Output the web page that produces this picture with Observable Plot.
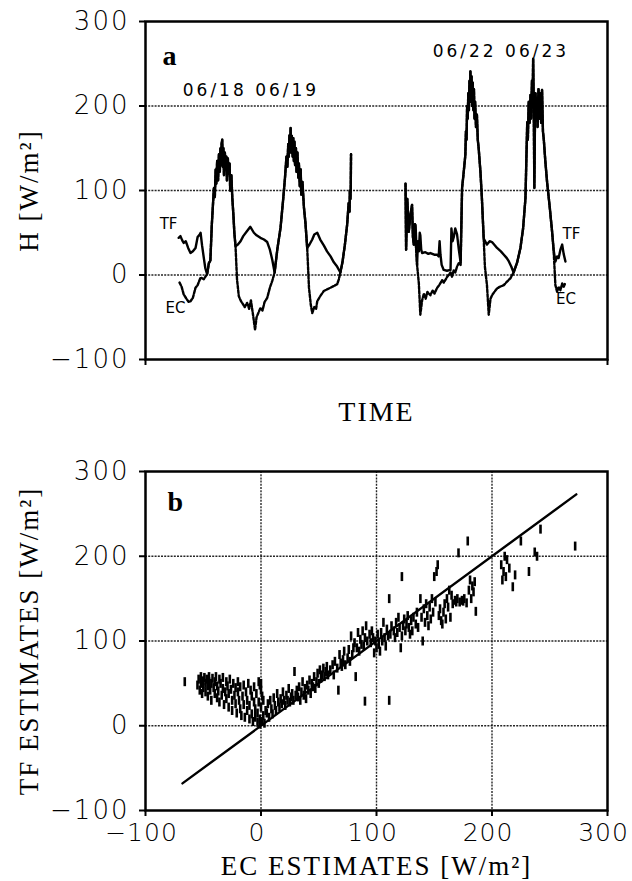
<!DOCTYPE html>
<html><head><meta charset="utf-8">
<script src="https://cdn.jsdelivr.net/npm/d3@7"></script>
<script src="https://cdn.jsdelivr.net/npm/@observablehq/plot@0.6"></script>
<style>
body{margin:0;background:#fff;}
#chart{width:632px;height:881px;}
#chart svg{display:block;}
</style>
</head><body><div id="chart"></div>
<script>
// ---------- Panel a: sensible heat flux time series (hours of record, W/m2) ----------
const tf1 = [[11.2,44],[11.8,46],[12.4,41],[12.9,38],[13.6,40],[14.4,32],[15.2,26],[16.0,28],[16.9,32],[17.6,45],[18.3,48],[18.6,50],[19.1,35],[19.7,20],[20.2,8],[20.8,1],[21.4,14],[21.9,17],[22.4,60],[23.1,103],[23.4,92],[23.7,125],[23.9,108],[24.2,135],[24.5,112],[24.8,143],[25.1,122],[25.3,150],[25.5,130],[25.7,155],[25.9,160],[26.1,128],[26.3,150],[26.5,118],[26.8,145],[27.0,125],[27.3,140],[27.5,112],[27.8,138],[28.1,120],[28.4,132],[28.6,100],[29.0,118],[29.3,92],[29.7,70],[30.0,50],[30.4,34],[31.2,36],[32.1,40],[33.0,46],[34.3,52],[35.4,57],[36.6,50],[37.5,47],[38.8,44],[40.0,42],[41.1,39],[42.0,30],[42.8,18],[43.6,3],[44.5,30],[45.6,56],[46.5,90],[47.1,115],[47.6,140],[47.9,128],[48.2,155],[48.4,140],[48.6,165],[48.8,148],[49.0,174],[49.2,145],[49.4,165],[49.7,140],[49.9,162],[50.1,135],[50.3,158],[50.5,130],[50.8,150],[51.0,122],[51.3,145],[51.6,115],[51.8,132],[52.1,105],[52.4,125],[52.6,95],[53.0,110],[53.5,80],[54.0,62],[54.6,32],[55.2,35],[56.3,42],[57.0,48],[58.0,50],[59.0,42],[60.2,35],[61.3,28],[62.5,22],[63.6,15],[64.7,10],[65.8,3],[66.5,15],[67.3,35],[68.1,60],[68.6,85],[68.9,75],[69.0,100],[69.2,90],[69.3,103],[69.4,143]];
const ec1 = [[11.5,-9],[12.2,-14],[12.9,-23],[13.8,-28],[14.6,-32],[15.2,-31],[16.0,-27],[16.9,-15],[17.6,-12],[18.6,-3],[19.7,-5],[20.8,1],[21.4,14],[21.9,17],[22.4,60],[23.1,103],[23.4,92],[23.7,125],[23.9,108],[24.2,135],[24.5,112],[24.8,143],[25.1,122],[25.3,150],[25.5,130],[25.7,155],[25.9,160],[26.1,128],[26.3,150],[26.5,118],[26.8,145],[27.0,125],[27.3,140],[27.5,112],[27.8,138],[28.1,120],[28.4,132],[28.6,100],[29.0,118],[29.3,92],[29.7,70],[30.0,50],[30.4,34],[30.9,-5],[31.5,-25],[32.1,-30],[32.8,-34],[33.5,-38],[34.3,-33],[35.0,-40],[35.6,-30],[36.3,-47],[37.0,-65],[37.5,-50],[38.1,-45],[38.8,-39],[39.5,-42],[40.2,-32],[41.1,-27],[42.0,-15],[42.8,-7],[43.6,3],[44.5,30],[45.6,56],[46.5,90],[47.1,115],[47.6,140],[47.9,128],[48.2,155],[48.4,140],[48.6,165],[48.8,148],[49.0,174],[49.2,145],[49.4,165],[49.7,140],[49.9,162],[50.1,135],[50.3,158],[50.5,130],[50.8,150],[51.0,122],[51.3,145],[51.6,115],[51.8,132],[52.1,105],[52.4,125],[52.6,95],[53.0,110],[53.5,80],[54.0,62],[54.6,32],[55.2,-15],[55.8,-35],[56.3,-45],[57.0,-38],[57.6,-40],[58.0,-31],[59.0,-25],[60.2,-19],[61.3,-17],[62.5,-15],[63.6,-13],[64.7,-11],[65.3,-5],[65.8,3],[66.5,15],[67.3,35],[68.1,60],[68.6,85],[68.9,75],[69.0,100],[69.2,90],[69.3,103],[69.4,143]];
const tf2 = [[87.8,108],[88.0,30],[88.4,90],[88.9,51],[89.4,70],[90.0,83],[90.3,45],[90.6,36],[91.0,60],[91.2,59],[91.5,30],[91.7,12],[92.0,40],[92.3,28],[92.6,50],[92.8,47],[93.1,30],[93.4,26],[94.5,27],[95.5,25],[96.2,26],[97.5,24],[98.5,24],[99.0,22],[99.3,40],[99.6,24],[100.0,12],[100.7,6],[101.8,5],[103.0,6],[103.3,55],[103.7,40],[104.1,45],[104.6,55],[105.2,48],[105.8,30],[106.4,15],[106.9,103],[107.4,120],[108.0,142],[108.2,170],[108.4,160],[108.6,200],[108.8,185],[109.0,215],[109.2,195],[109.4,230],[109.6,205],[109.7,241],[109.9,210],[110.1,235],[110.3,200],[110.5,228],[110.7,195],[110.9,220],[111.1,185],[111.3,205],[111.6,175],[111.9,190],[112.2,160],[112.5,150],[113.1,122],[113.6,90],[114.2,43],[115.3,36],[116.2,40],[117.0,39],[118.0,35],[118.7,32],[120.0,28],[121.0,24],[122.0,20],[122.7,16],[123.5,10],[124.3,3],[125.5,15],[126.6,32],[127.5,55],[128.3,91],[128.9,181],[129.1,160],[129.4,205],[129.7,180],[130.0,213],[130.2,185],[130.5,230],[130.7,200],[130.9,256],[131.1,200],[131.3,103],[131.5,180],[131.7,215],[131.9,190],[132.2,209],[132.4,175],[132.7,220],[133.0,185],[133.3,215],[133.6,180],[133.9,219],[134.2,170],[134.5,160],[135.0,135],[135.6,110],[136.5,80],[137.3,51],[137.8,30],[138.4,16],[139.0,22],[139.5,20],[140.1,30],[140.7,36],[141.2,25],[141.8,16]];
const ec2 = [[87.8,108],[88.0,30],[88.4,90],[88.9,51],[89.4,70],[90.0,83],[90.3,45],[90.6,36],[91.0,60],[91.2,40],[91.7,12],[92.3,-10],[92.8,-47],[93.4,-30],[94.0,-22],[94.6,-28],[95.2,-20],[96.2,-24],[97.0,-18],[97.6,-22],[98.5,-15],[99.2,-12],[100.2,-6],[100.7,-9],[101.9,-2],[103.0,3],[103.5,-2],[104.1,6],[104.6,3],[105.2,10],[105.8,14],[106.4,12],[106.9,103],[107.4,120],[108.0,142],[108.2,170],[108.4,160],[108.6,200],[108.8,185],[109.0,215],[109.2,195],[109.4,230],[109.6,205],[109.7,241],[109.9,210],[110.1,235],[110.3,200],[110.5,228],[110.7,195],[110.9,220],[111.1,185],[111.3,205],[111.6,175],[111.9,190],[112.2,160],[112.5,150],[113.1,122],[113.6,90],[114.2,43],[114.6,10],[115.3,-12],[115.9,-47],[116.5,-28],[117.0,-24],[117.8,-20],[118.7,-16],[119.6,-14],[121.0,-12],[122.0,-8],[123.2,-4],[124.3,3],[125.5,15],[126.6,32],[127.5,55],[128.3,91],[128.9,181],[129.1,160],[129.4,205],[129.7,180],[130.0,213],[130.2,185],[130.5,230],[130.7,200],[130.9,256],[131.1,200],[131.3,103],[131.5,180],[131.7,215],[131.9,190],[132.2,209],[132.4,175],[132.7,220],[133.0,185],[133.3,215],[133.6,180],[133.9,219],[134.2,170],[134.5,160],[135.0,135],[135.6,110],[136.5,80],[137.3,51],[137.8,30],[138.4,-12],[139.0,-20],[139.5,-14],[140.1,-18],[140.7,-10],[141.2,-14],[141.8,-9]];
const yTicks = [-100, 0, 100, 200, 300];
const gridValues = [0, 100, 200];
const dateLabels = ["06/18 06/19", "06/22 06/23"];
const seriesLabels = ["TF", "EC", "TF", "EC"];

// ---------- Panel b: TF estimates vs EC estimates (W/m2) ----------
const ecEst = [-66,-55,-54,-53,-52,-52,-51,-50,-50,-49,-48,-48,-47,-46,-46,-45,-45,-44,-43,-43,-42,-41,-40,-40,-39,-38,-38,-37,-36,-36,-35,-34,-33,-33,-32,-31,-30,-30,-29,-28,-28,-27,-26,-25,-25,-24,-23,-22,-22,-21,-20,-20,-19,-18,-18,-17,-16,-15,-15,-14,-13,-12,-12,-11,-10,-10,-9,-8,-8,-7,-6,-6,-5,-5,-4,-3,-3,-2,-2,-1,-1,-1,0,0,0,1,1,2,2,3,4,
 5,6,7,8,9,10,11,12,13,14,15,16,17,18,19,20,21,22,23,24,25,26,27,28,29,30,31,32,33,34,35,36,37,38,39,40,41,42,43,44,45,46,47,48,49,50,51,52,53,54,55,56,57,58,60,62,63,64,66,67,68,69,70,71,72,73,75,76,77,78,79,80,81,82,83,84,85,86,87,88,89,90,90,91,92,94,95,96,97,98,99,100,101,102,103,104,105,106,107,108,109,110,111,111,112,113,115,116,117,118,119,120,121,122,122,123,124,125,126,127,128,129,130,131,132,134,135,136,138,139,140,141,142,143,144,145,146,147,148,149,150,151,152,153,154,155,156,157,158,159,160,161,162,163,164,165,166,168,169,170,171,172,174,175,176,178,179,180,181,182,183,184,185,186,208,209,210,211,212,213,215,218,220,225,232,237,239,242,272];
const tfEst = [52,48,55,42,58,50,38,53,45,57,40,50,55,35,47,58,52,42,50,30,56,45,38,52,58,33,47,41,55,28,50,36,44,57,25,40,52,32,47,22,38,55,43,30,18,50,36,26,45,15,40,52,30,20,46,12,35,25,48,10,40,18,30,50,8,24,42,14,35,5,28,46,10,20,38,4,15,52,28,8,2,48,22,42,50,5,35,12,30,3,18,
 15,26,10,30,20,14,33,24,18,38,28,22,32,26,40,30,24,36,30,44,28,34,38,30,64,36,42,34,46,30,40,52,36,44,32,48,42,54,38,50,46,58,44,52,62,50,66,56,60,68,58,64,70,60,66,72,60,76,68,42,84,74,70,78,88,72,80,90,76,106,84,92,98,58,92,110,88,102,96,112,94,29,104,118,100,108,98,112,104,86,100,92,108,96,88,110,100,122,104,94,114,106,30,150,108,118,112,104,122,110,128,116,92,176,106,118,126,112,120,130,116,108,124,112,128,120,134,116,150,128,100,138,122,144,130,118,140,126,150,134,176,146,182,190,130,138,124,120,134,144,126,150,140,160,128,154,144,148,146,150,204,146,148,147,150,145,218,160,172,150,165,158,170,135,190,172,182,200,176,196,186,164,178,218,182,205,200,232,212];
const axisTicks = [-100, 0, 100, 200, 300];
const lineEC = [-68, 273];
const lineTF = [-68, 273];

// ---------- helpers ----------
const rows = (arr, s) => arr.map(([h, v]) => ({h, v, s}));
const tfRows = [...rows(tf1, 1), ...rows(tf2, 2)];
const ecRows = [...rows(ec1, 1), ...rows(ec2, 2)];
const scatter = ecEst.map((e, i) => ({ec: e, tf: tfEst[i]}));
const vbar = {draw(ctx, size) { const r = Math.sqrt(size / Math.PI); ctx.moveTo(0, -r); ctx.lineTo(0, r); }};

const SANS = "DejaVu Sans";
const SERIF = "Liberation Serif";
const gridStyle = {stroke: "#000", strokeOpacity: 0.85, strokeWidth: 1.4, strokeDasharray: "2,1.2"};

const plotA = Plot.plot({
  width: 632, height: 440,
  marginLeft: 145, marginRight: 25, marginTop: 21, marginBottom: 81,
  style: {background: "#fff", color: "#000", fontFamily: SANS},
  x: {domain: [0, 156], axis: null},
  y: {domain: [-100, 300], axis: null},
  marks: [
    Plot.gridY(gridValues, gridStyle),
    Plot.line(ecRows, {x: "h", y: "v", z: "s", stroke: "#000", strokeWidth: 2.4, strokeDasharray: "3,1.6"}),
    Plot.line(tfRows, {x: "h", y: "v", z: "s", stroke: "#000", strokeWidth: 2.4}),
    Plot.frame({stroke: "#000", strokeWidth: 2.5}),
    Plot.axisY({ticks: yTicks, tickSize: 6, tickPadding: 10, fontSize: 26, fontWeight: 300, label: null, strokeWidth: 2}),
    Plot.axisX({ticks: [0, 156], tickFormat: () => "", tickSize: 6, label: null, strokeWidth: 2}),
    Plot.text(["H [W/m²]"], {frameAnchor: "left", dx: -116, rotate: -90, textAnchor: "middle", fontFamily: SERIF, fontSize: 27}),
    Plot.text(["TIME"], {frameAnchor: "bottom", dy: 61, textAnchor: "middle", fontFamily: SERIF, fontSize: 28}),
    Plot.text(["a"], {frameAnchor: "top-left", dx: 17, dy: 24, fontFamily: SERIF, fontWeight: "bold", fontSize: 28}),
    Plot.text(dateLabels, {x: [35.6, 120], y: [218, 265], fontSize: 17}),
    Plot.text(seriesLabels, {x: [7.8, 10.1, 143.8, 142], y: [60, -39, 48, -29], fontSize: 15})
  ]
});

const plotB = Plot.plot({
  width: 632, height: 441,
  marginLeft: 145, marginRight: 25, marginTop: 31, marginBottom: 71,
  style: {background: "#fff", color: "#000", fontFamily: SANS},
  x: {domain: [-100, 300], axis: null},
  y: {domain: [-100, 300], axis: null},
  marks: [
    Plot.gridY(gridValues, gridStyle),
    Plot.gridX(gridValues, gridStyle),
    Plot.line(lineEC.map((e, i) => ({ec: e, tf: lineTF[i]})), {x: "ec", y: "tf", stroke: "#000", strokeWidth: 2.4}),
    Plot.dot(scatter, {x: "ec", y: "tf", symbol: vbar, r: 4.5, fill: "none", stroke: "#000", strokeWidth: 2.6}),
    Plot.frame({stroke: "#000", strokeWidth: 2.5}),
    Plot.axisY({ticks: axisTicks, tickSize: 6, tickPadding: 10, fontSize: 26, fontWeight: 300, label: null, strokeWidth: 2}),
    Plot.axisX({ticks: axisTicks, tickSize: 6, tickPadding: 7, fontSize: 25, fontWeight: 300, label: null, strokeWidth: 2}),
    Plot.text(["TF ESTIMATES [W/m²]"], {frameAnchor: "left", dx: -116, rotate: -90, textAnchor: "middle", fontFamily: SERIF, fontSize: 27}),
    Plot.text(["EC ESTIMATES [W/m²]"], {frameAnchor: "bottom", dy: 64, textAnchor: "middle", fontFamily: SERIF, fontSize: 27}),
    Plot.text(["b"], {frameAnchor: "top-left", dx: 22, dy: 20, fontFamily: SERIF, fontWeight: "bold", fontSize: 28})
  ]
});

const chart = document.getElementById("chart");
chart.appendChild(plotA);
chart.appendChild(plotB);
for (const svg of [plotA, plotB]) {
  const s = d3.select(svg);
  s.selectAll('g[aria-label="y-axis tick label"] text').style("letter-spacing", "2px");
  s.selectAll('g[aria-label="x-axis tick label"] text').style("letter-spacing", "1px").attr("dx", -4);
  s.selectAll('g[font-family="Liberation Serif"] text').style("letter-spacing", "2px");
  s.selectAll('g[font-size="17"] text').style("letter-spacing", "3px");
}
</script>
</body></html>
